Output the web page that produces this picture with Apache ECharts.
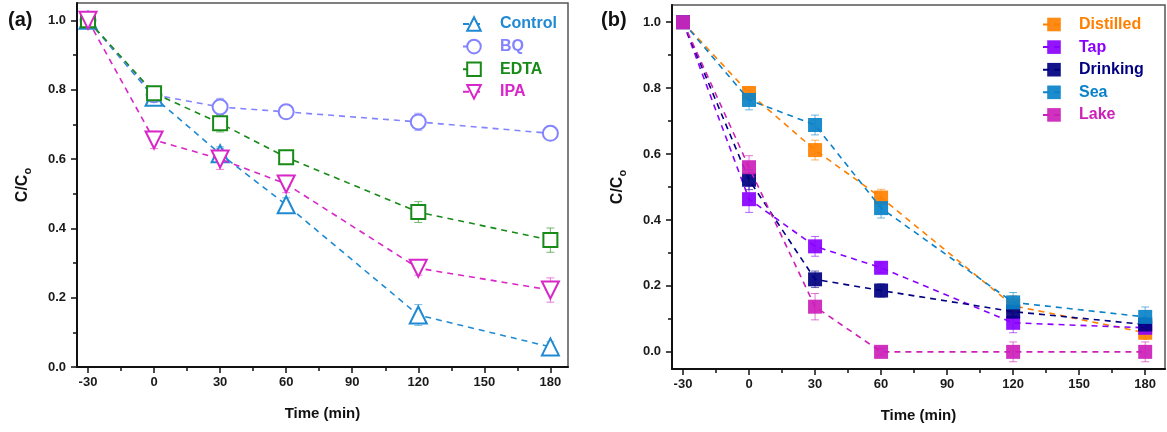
<!DOCTYPE html>
<html>
<head>
<meta charset="utf-8">
<script src="https://cdn.jsdelivr.net/npm/echarts@6/dist/echarts.min.js"></script>
<style>
html,body{margin:0;padding:0;background:#fff;}
#c{width:1167px;height:432px;}
</style>
</head>
<body>
<div id="c"></div>
<script>
// ---------- data ----------
const times = [-30, 0, 30, 60, 120, 180];
const xTicks = [-30, 0, 30, 60, 90, 120, 150, 180];
const xMinorTicks = [-15, 15, 45, 75, 105, 135, 165];
const yTicks = [0, 0.2, 0.4, 0.6, 0.8, 1.0];
const yMinorTicks = [0.1, 0.3, 0.5, 0.7, 0.9];

// panel (a)
const namesA = ['Control', 'BQ', 'EDTA', 'IPA'];
const control = [1.0, 0.778, 0.615, 0.468, 0.150, 0.058];
const bq      = [1.0, 0.785, 0.750, 0.736, 0.707, 0.674];
const edta    = [1.0, 0.790, 0.703, 0.605, 0.447, 0.366];
const ipa     = [1.0, 0.655, 0.600, 0.528, 0.285, 0.222];
const controlErr = [0.01, 0.020, 0.020, 0.020, 0.030, 0.015];
const bqErr      = [0.01, 0.020, 0.025, 0.015, 0.025, 0.015];
const edtaErr    = [0.01, 0.015, 0.025, 0.015, 0.030, 0.035];
const ipaErr     = [0.01, 0.025, 0.030, 0.025, 0.020, 0.035];

// panel (b)
const namesB = ['Distilled', 'Tap', 'Drinking', 'Sea', 'Lake'];
const distilled = [1.0, 0.785, 0.612, 0.468, 0.140, 0.058];
const tap       = [1.0, 0.463, 0.320, 0.255, 0.088, 0.073];
const drinking  = [1.0, 0.522, 0.220, 0.186, 0.122, 0.083];
const sea       = [1.0, 0.764, 0.688, 0.436, 0.150, 0.106];
const lake      = [1.0, 0.560, 0.137, 0.000, 0.000, 0.000];
const distilledErr = [0.01, 0.020, 0.030, 0.025, 0.030, 0.020];
const tapErr       = [0.01, 0.040, 0.030, 0.015, 0.030, 0.020];
const drinkingErr  = [0.01, 0.030, 0.025, 0.020, 0.020, 0.020];
const seaErr       = [0.01, 0.030, 0.030, 0.030, 0.030, 0.030];
const lakeErr      = [0.01, 0.035, 0.040, 0.010, 0.030, 0.030];

// ---------- styles ----------
const FONT = 'Arial, "Liberation Sans", sans-serif';
const colorsA = ['#1f8ad2', '#8383ff', '#178a17', '#d826c8'];
const symbolsA = ['emptyTriangle', 'emptyCircle', 'emptyRect', 'emptyTriangle'];
const rotA = [0, 0, 0, 180];
const sizeA = [17, 15, 14, 17];
const colorsB = ['#ff8000', '#8a00ff', '#000080', '#0a82c8', '#cc20b8'];

const valsA = [control, bq, edta, ipa];
const errsA = [controlErr, bqErr, edtaErr, ipaErr];
const valsB = [distilled, tap, drinking, sea, lake];
const errsB = [distilledErr, tapErr, drinkingErr, seaErr, lakeErr];

function fmt(v){ return (Math.round(v*10)/10).toFixed(1); }

function xAxes(grid){
  const mx = grid === 0 ? 188 : 189;
  return [{
    gridIndex: grid, type: 'value', position: 'bottom', offset: 0, min: -35, max: mx,
    axisLine: {show: true, onZero: false, lineStyle: {color: '#111', width: 2}},
    axisTick: {show: true, customValues: xTicks, length: 6, inside: false, lineStyle: {color: '#111', width: 1.5}},
    axisLabel: {customValues: xTicks, fontFamily: FONT, fontWeight: 'bold', fontSize: 13, color: '#1a1a1a', margin: 9},
    splitLine: {show: false},
    name: 'Time (min)', nameLocation: 'middle', nameGap: 39,
    nameTextStyle: {fontFamily: FONT, fontWeight: 'bold', fontSize: 15, color: '#111'}
  }, {
    gridIndex: grid, type: 'value', position: 'bottom', offset: 0, min: -35, max: mx,
    axisLine: {show: false, onZero: false},
    axisTick: {show: true, customValues: xMinorTicks, length: 4, lineStyle: {color: '#111', width: 1.5}},
    axisLabel: {show: false}, splitLine: {show: false}
  }];
}
function yAxes(grid, mn, mx){
  return [{
    gridIndex: grid, type: 'value', position: 'left', offset: 0, min: mn, max: mx,
    axisLine: {show: true, onZero: false, lineStyle: {color: '#111', width: 2}},
    axisTick: {show: true, customValues: yTicks, length: 6, lineStyle: {color: '#111', width: 1.5}},
    axisLabel: {customValues: yTicks, formatter: fmt, fontFamily: FONT, fontWeight: 'bold', fontSize: 13, color: '#1a1a1a', margin: 11},
    splitLine: {show: false},
    name: 'C/C{sub|o}', nameLocation: 'middle', nameGap: 44,
    nameTextStyle: {fontFamily: FONT, fontWeight: 'bold', fontSize: 16, color: '#111',
      rich: {sub: {fontFamily: FONT, fontWeight: 'bold', fontSize: 11, color: '#111', padding: [9, 0, 0, 0]}}}
  }, {
    gridIndex: grid, type: 'value', position: 'left', offset: 0, min: mn, max: mx,
    axisLine: {show: false, onZero: false},
    axisTick: {show: true, customValues: yMinorTicks, length: 4, lineStyle: {color: '#111', width: 1.5}},
    axisLabel: {show: false}, splitLine: {show: false}
  }];
}

function errSeries(vals, errs, color, xi, yi, z){
  return {
    type: 'custom', xAxisIndex: xi, yAxisIndex: yi, z: z, silent: true,
    data: times.map((t, i) => [t, vals[i], errs[i]]),
    renderItem: function(params, api){
      const x = api.value(0), y = api.value(1), e = api.value(2);
      const top = api.coord([x, y + e]);
      const bot = api.coord([x, y - e]);
      const w = 4;
      const st = {stroke: color, lineWidth: 1, opacity: 0.6};
      return {type: 'group', children: [
        {type: 'line', shape: {x1: top[0], y1: top[1], x2: bot[0], y2: bot[1]}, style: st},
        {type: 'line', shape: {x1: top[0]-w, y1: top[1], x2: top[0]+w, y2: top[1]}, style: st},
        {type: 'line', shape: {x1: bot[0]-w, y1: bot[1], x2: bot[0]+w, y2: bot[1]}, style: st}
      ]};
    }
  };
}

const series = [];
namesA.forEach((n, k) => {
  series.push(errSeries(valsA[k], errsA[k], colorsA[k], 0, 0, 1));
});
namesA.forEach((n, k) => {
  series.push({
    name: n, type: 'line', xAxisIndex: 0, yAxisIndex: 0, z: 3 + k,
    data: times.map((t, i) => [t, valsA[k][i]]),
    symbol: symbolsA[k], symbolSize: sizeA[k], symbolRotate: rotA[k], showAllSymbol: true,
    lineStyle: {color: colorsA[k], width: 1.6, type: [6, 5]},
    itemStyle: {color: colorsA[k], borderColor: colorsA[k], borderWidth: 3},
    emphasis: {disabled: true}, animation: false
  });
});
namesB.forEach((n, k) => {
  series.push(errSeries(valsB[k], errsB[k], colorsB[k], 2, 2, 1));
});
namesB.forEach((n, k) => {
  series.push({
    name: n, type: 'line', xAxisIndex: 2, yAxisIndex: 2, z: 3 + k,
    data: times.map((t, i) => [t, valsB[k][i]]),
    symbol: 'rect', symbolSize: 14, showAllSymbol: true,
    lineStyle: {color: colorsB[k], width: 1.6, type: [6, 5]},
    itemStyle: {color: colorsB[k], opacity: 0.92},
    emphasis: {disabled: true}, animation: false
  });
});

function legendFor(names, colors, left, top, pad){
  return {
    orient: 'vertical', left: left, top: top, itemWidth: 22, itemHeight: 17, itemGap: 5.6,
    selectedMode: false,
    data: names.map((n, k) => ({name: n, textStyle: {color: colors[k]}})),
    textStyle: {fontFamily: FONT, fontWeight: 'bold', fontSize: 16, lineHeight: 17, padding: [0, 0, 0, pad]}
  };
}

const option = {
  animation: false,
  backgroundColor: '#fff',
  grid: [
    {left: 77, top: 3, width: 491, height: 364, show: true, borderColor: '#555', borderWidth: 1.5},
    {left: 672, top: 5, width: 493, height: 364, show: true, borderColor: '#555', borderWidth: 1.5}
  ],
  xAxis: xAxes(0).concat(xAxes(1)),
  yAxis: yAxes(0, 0, 1.05).concat(yAxes(1, -0.052, 1.052)),
  legend: [
    legendFor(namesA, colorsA, 457, 10.5, 10),
    legendFor(namesB, colorsB, 1037, 11, 9)
  ],
  graphic: [
    {type: 'text', left: 8, top: 10, style: {text: '(a)', font: 'bold 20px ' + FONT, fill: '#111'}},
    {type: 'text', left: 601, top: 10, style: {text: '(b)', font: 'bold 20px ' + FONT, fill: '#111'}}
  ],
  series: series
};

const chart = echarts.init(document.getElementById('c'), null, {renderer: 'canvas'});
chart.setOption(option);
</script>
</body>
</html>
